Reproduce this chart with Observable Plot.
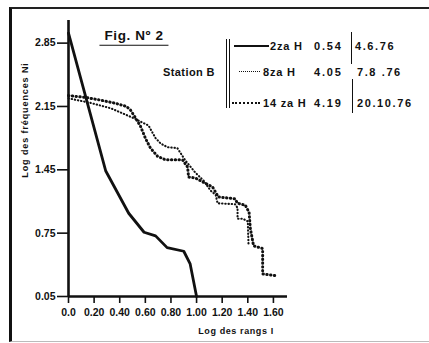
<!DOCTYPE html>
<html><head><meta charset="utf-8">
<script src="https://cdn.jsdelivr.net/npm/d3@7"></script>
<script src="https://cdn.jsdelivr.net/npm/@observablehq/plot@0.6"></script>
<style>
html,body{margin:0;padding:0;background:#fff;}
#wrap{position:relative;width:429px;height:343px;overflow:hidden;font-family:"Liberation Sans",Arial,sans-serif;color:#111;}
#wrap svg{position:absolute;left:0;top:0;}
#frame{position:absolute;left:9px;top:7px;width:417px;height:332px;border-left:3px solid #111;border-top:2px solid #222;border-right:1px solid #bbb;border-bottom:1px solid #bbb;}
.t{position:absolute;white-space:nowrap;font-weight:bold;line-height:1;transform:translateY(-50%);}
.c{transform:translate(-50%,-50%);}
.ln{position:absolute;height:0;}
.vl{position:absolute;width:0;border-left:1.5px solid #111;}
</style></head>
<body>
<div id="wrap"><div id="frame"></div></div>
<script>
// Series 1: 2za H (solid)
const logRang2 = [0, 0.29, 0.47, 0.59, 0.68, 0.77, 0.90, 0.95, 1.00];
const logFreq2 = [2.96, 1.44, 0.97, 0.76, 0.72, 0.59, 0.55, 0.41, 0.05];
// Series 2: 8za H (fine dots)
const logRang8 = [0, 0.17, 0.33, 0.445, 0.51, 0.58, 0.625, 0.656, 0.68, 0.72, 0.773, 0.85, 0.914, 0.99, 1.055, 1.11, 1.15, 1.164, 1.30, 1.32, 1.32, 1.36, 1.40, 1.406];
const logFreq8 = [2.24, 2.19, 2.13, 2.06, 2.02, 1.97, 1.94, 1.86, 1.80, 1.74, 1.70, 1.69, 1.55, 1.42, 1.33, 1.22, 1.17, 1.08, 1.07, 1.03, 0.91, 0.91, 0.88, 0.61];
// Series 3: 14 za H (heavy dots)
const logRang14 = [0, 0.133, 0.25, 0.367, 0.453, 0.484, 0.516, 0.5625, 0.60, 0.64, 0.695, 0.758, 0.89, 0.93, 0.9375, 0.99, 1.07, 1.125, 1.17, 1.30, 1.32, 1.38, 1.41, 1.42, 1.445, 1.516, 1.516, 1.617];
const logFreq14 = [2.27, 2.25, 2.22, 2.185, 2.15, 2.11, 2.04, 1.93, 1.80, 1.69, 1.60, 1.56, 1.56, 1.48, 1.37, 1.36, 1.30, 1.26, 1.15, 1.13, 1.08, 1.06, 0.98, 0.80, 0.61, 0.58, 0.30, 0.28];

const xTicks = [0, 0.2, 0.4, 0.6, 0.8, 1.0, 1.2, 1.4, 1.6];
const xTickLabels = ["0.0", "0.20", "0.40", "0.60", "0.80", "1.00", "1.20", "1.40", "1.60"];
const yTicks = [0.05, 0.75, 1.45, 2.15, 2.85];
const yTickLabels = ["0.05", "0.75", "1.45", "2.15", "2.85"];

const seriesNames = ["2za H", "8za H", "14 za H"];
const seriesIndex = ["0.54", "4.05", "4.19"];
const seriesDates = ["4.6.76", "7.8 .76", "20.10.76"];

const toRows = (xs, ys) => xs.map((x, i) => ({x, y: ys[i]}));
const s2 = toRows(logRang2, logFreq2);
const s8 = toRows(logRang8, logFreq8);
const s14 = toRows(logRang14, logFreq14);

const plot = Plot.plot({
  width: 429, height: 343,
  marginLeft: 68, marginRight: 142, marginTop: 20, marginBottom: 47,
  style: {fontFamily: '"Liberation Sans", Arial, sans-serif', fontSize: "10.5px", fontWeight: "bold", color: "#111", background: "transparent", overflow: "visible"},
  x: {domain: [0, 1.71]},
  y: {domain: [0.05, 3.1]},
  marks: [
    Plot.axisX({ticks: xTicks, tickFormat: (d, i) => xTickLabels[i], tickSize: 7, tickPadding: 5, strokeWidth: 1.6, label: null}),
    Plot.axisY({ticks: yTicks, tickFormat: (d, i) => yTickLabels[i], tickSize: 11, tickPadding: 2, strokeWidth: 1.6, label: null}),
    Plot.ruleX([0], {stroke: "#111", strokeWidth: 2.6}),
    Plot.ruleY([0.05], {stroke: "#111", strokeWidth: 2.6}),
    Plot.line(s2, {x: "x", y: "y", stroke: "#111", strokeWidth: 2.8, strokeLinejoin: "round"}),
    Plot.line(s8, {x: "x", y: "y", stroke: "#111", strokeWidth: 2.1, strokeDasharray: "0.4,2.8", strokeLinecap: "round"}),
    Plot.line(s14, {x: "x", y: "y", stroke: "#111", strokeWidth: 3.0, strokeDasharray: "0.4,3.4", strokeLinecap: "round"})
  ]
});
const wrap = document.getElementById("wrap");
wrap.appendChild(plot);

function addText(txt, left, top, size, cls, extra) {
  const d = document.createElement("div");
  d.className = "t" + (cls ? " " + cls : "");
  d.textContent = txt;
  d.style.left = left + "px";
  d.style.top = top + "px";
  d.style.fontSize = size + "px";
  if (extra) Object.assign(d.style, extra);
  wrap.appendChild(d);
  return d;
}
function addBox(cls, styles) {
  const d = document.createElement("div");
  d.className = cls;
  Object.assign(d.style, styles);
  wrap.appendChild(d);
}

// Title and station
addText("Fig. Nº 2", 134, 37, 13.5, "c", {borderBottom: "1.6px solid #111", padding: "0 5px 2px 5px", letterSpacing: "0.6px"});
addText("Station B", 189, 72, 11, "c", {letterSpacing: "0.4px"});

// Axis titles
addText("Log des fréquences    Ni", 25, 120, 9, "", {transform: "translate(-50%,-50%) rotate(-90deg)", letterSpacing: "0.9px"});
addText("Log des rangs    I", 236, 331, 9, "c", {letterSpacing: "0.6px"});

// Legend
addBox("ln", {left: "226px", top: "39px", width: "2px", height: "69px", borderLeft: "1.5px solid #111", borderRight: "1.5px solid #111"});
const rowY = [46, 72, 103];
const sampleLeft = [234, 239, 232];
const sampleW = [35, 21, 28];
const sampleBorder = ["2.2px solid #111", "1.8px dotted #111", "2.6px dotted #111"];
rowY.forEach((y, i) => {
  addBox("ln", {left: sampleLeft[i] + "px", top: (y - 1) + "px", width: sampleW[i] + "px", borderTop: sampleBorder[i]});
  addText(seriesNames[i], i === 0 ? 270 : 263, y, 11, "", {letterSpacing: "0.8px"});
  addText(seriesIndex[i], 314, y, 11, "", {letterSpacing: "1.8px"});
  addText(seriesDates[i], i === 0 ? 355 : 357, y, 11, "", {letterSpacing: "1.6px"});
});
addBox("vl", {left: "351px", top: "32px", height: "32px"});
addBox("vl", {left: "352px", top: "79px", height: "34px"});
</script>
</body></html>
